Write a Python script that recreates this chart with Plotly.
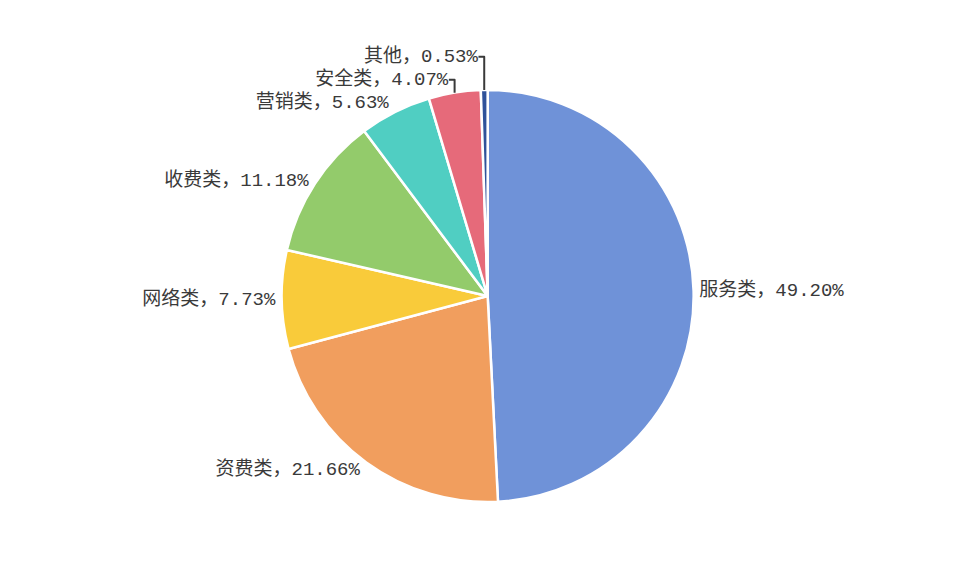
import plotly.graph_objects as go

categories = ["服务类", "资费类", "网络类", "收费类", "营销类", "安全类", "其他"]
values = [49.20, 21.66, 7.73, 11.18, 5.63, 4.07, 0.53]
colors = ["#6F92D8", "#F19E5E", "#F9CB3A", "#93CB6B", "#50CEC2", "#E66A7A", "#2F529A"]

fig = go.Figure(go.Pie(
    labels=categories,
    values=values,
    sort=False,
    direction="clockwise",
    rotation=0,
    domain=dict(x=[0.0, 0.99], y=[0, 1]),
    marker=dict(colors=colors, line=dict(color="white", width=2.5)),
    texttemplate="%{label}，%{value:.2f}%",
    textposition="outside",
    textfont=dict(family="Liberation Mono, Noto Sans CJK SC", size=19, color="#3a3a3a"),
    hoverinfo="label+value",
    showlegend=False,
))

fig.update_layout(
    width=969, height=580,
    margin=dict(l=0, r=0, t=82, b=86, autoexpand=False),
    paper_bgcolor="white",
    plot_bgcolor="white",
    font=dict(family="Noto Sans CJK SC"),
)

fig.write_html("out.html")
